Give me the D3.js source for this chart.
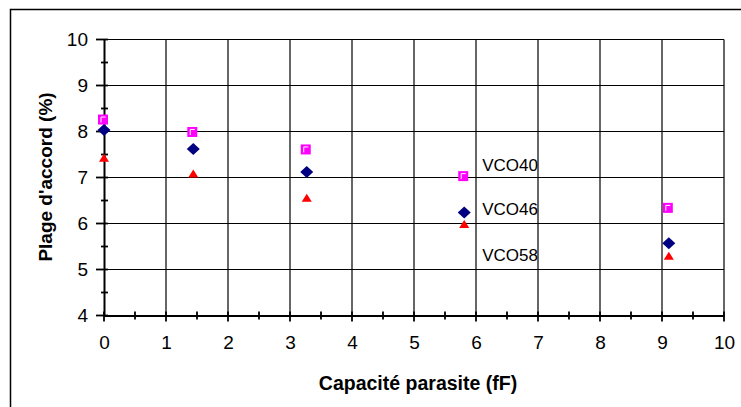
<!DOCTYPE html>
<html><head><meta charset="utf-8">
<script src="https://cdn.jsdelivr.net/npm/d3@7"></script>
<style>
html,body{margin:0;padding:0;background:#fff;}
svg{display:block;font-family:"Liberation Sans",Arial,sans-serif;}
</style></head>
<body><svg id="c" width="741" height="407"></svg>
<script>
const capacite = [0, 1.44, 3.27, 5.81, 9.11];
const vco40 = [8.26, 7.99, 7.61, 7.03, 6.34];
const vco46 = [8.03, 7.62, 7.12, 6.24, 5.57];
const vco58 = [7.40, 7.06, 6.53, 5.96, 5.27];
const seriesNames = ["VCO40", "VCO46", "VCO58"];
const labelX = 6.1;
const labelY = [7.29, 6.33, 5.33];
const xTicks = [0,1,2,3,4,5,6,7,8,9,10];
const yTicks = [4,5,6,7,8,9,10];
const xMinor = [0.5,1.5,2.5,3.5,4.5,5.5,6.5,7.5,8.5,9.5];
const yMinor = [4.5,5.5,6.5,7.5,8.5,9.5];

const svg = d3.select("#c");
const x = d3.scaleLinear().domain([0,10]).range([104,724]);
const y = d3.scaleLinear().domain([4,10]).range([315.5,39.5]);

// outer frame (cropped: only top and left visible)
svg.append("rect").attr("x",10.5).attr("y",9.5).attr("width",800).attr("height",500)
  .attr("fill","none").attr("stroke","#000").attr("stroke-width",1.5);

// grid
const g = svg.append("g");
g.selectAll(".vg").data(xTicks.filter(d=>d>0)).join("line")
  .attr("x1",d=>x(d)).attr("x2",d=>x(d)).attr("y1",y(10)).attr("y2",y(4))
  .attr("stroke","#000").attr("stroke-width",1.2);
g.selectAll(".hg").data(yTicks.filter(d=>d>4)).join("line")
  .attr("y1",d=>y(d)).attr("y2",d=>y(d)).attr("x1",x(0)).attr("x2",x(10))
  .attr("stroke","#000").attr("stroke-width",1.2);

// axes
const xAxis = d3.axisBottom(x).tickValues(xTicks).tickFormat(d3.format("d")).tickSize(0).tickPadding(20);
const gx = svg.append("g").attr("transform",`translate(0,${y(4)})`).call(xAxis);
gx.select(".domain").attr("stroke","#000").attr("stroke-width",2);
gx.selectAll("text").attr("font-size",19).attr("fill","#000").attr("font-family","Liberation Sans, Arial, sans-serif");
const yAxis = d3.axisLeft(y).tickValues(yTicks).tickFormat(d3.format("d")).tickSize(0).tickPadding(16);
const gy = svg.append("g").attr("transform",`translate(${x(0)},0)`).call(yAxis);
gy.select(".domain").attr("stroke","#000").attr("stroke-width",2);
gy.selectAll("text").attr("font-size",19).attr("fill","#000").attr("font-family","Liberation Sans, Arial, sans-serif");

// ticks
const t = svg.append("g").attr("stroke","#000").attr("stroke-width",1.8);
t.selectAll(".xm").data(xTicks).join("line")
  .attr("x1",d=>x(d)).attr("x2",d=>x(d)).attr("y1",y(4)-4).attr("y2",y(4)+6);
t.selectAll(".xn").data(xMinor).join("line")
  .attr("x1",d=>x(d)).attr("x2",d=>x(d)).attr("y1",y(4)-4).attr("y2",y(4)+4);
t.selectAll(".ym").data(yTicks).join("line")
  .attr("y1",d=>y(d)).attr("y2",d=>y(d)).attr("x1",x(0)-8).attr("x2",x(0)+4);
t.selectAll(".yn").data(yMinor).join("line")
  .attr("y1",d=>y(d)).attr("y2",d=>y(d)).attr("x1",x(0)-3).attr("x2",x(0)+4);

// markers: triangles (VCO58)
const tri = d3.symbol().type(d3.symbolTriangle).size(40);
svg.append("g").selectAll("path").data(vco58).join("path")
  .attr("d",tri).attr("transform",(d,i)=>`translate(${x(capacite[i])},${y(d)}) scale(1.05,0.95)`)
  .attr("fill","#FF0000");
// diamonds (VCO46)
svg.append("g").selectAll("path").data(vco46).join("path")
  .attr("d",d=>"M0,-6L6.5,0L0,6L-6.5,0Z")
  .attr("transform",(d,i)=>`translate(${x(capacite[i])},${y(d)})`)
  .attr("fill","#000080");
// squares (VCO40)
const sq = svg.append("g").selectAll("g").data(vco40).join("g")
  .attr("transform",(d,i)=>`translate(${x(capacite[i])-1},${y(d)})`);
sq.append("rect").attr("x",-5).attr("y",-5).attr("width",10).attr("height",10)
  .attr("fill","#FF00FF");
sq.append("path").attr("d","M-2,3V-2.5H2.5").attr("fill","none").attr("stroke","#fff").attr("stroke-width",1);

// labels
svg.append("g").selectAll("text").data(seriesNames).join("text")
  .attr("x",x(labelX)).attr("y",(d,i)=>y(labelY[i])+6.5)
  .attr("font-size",17).attr("fill","#000").text(d=>d);

// axis titles
svg.append("text").attr("x",418).attr("y",390).attr("text-anchor","middle")
  .attr("font-size",19.5).attr("font-weight","bold").text("Capacité parasite (fF)");
svg.append("text").attr("transform","translate(51.5,177) rotate(-90)").attr("text-anchor","middle")
  .attr("font-size",19).attr("font-weight","bold").text("Plage d'accord (%)");
</script></body></html>
